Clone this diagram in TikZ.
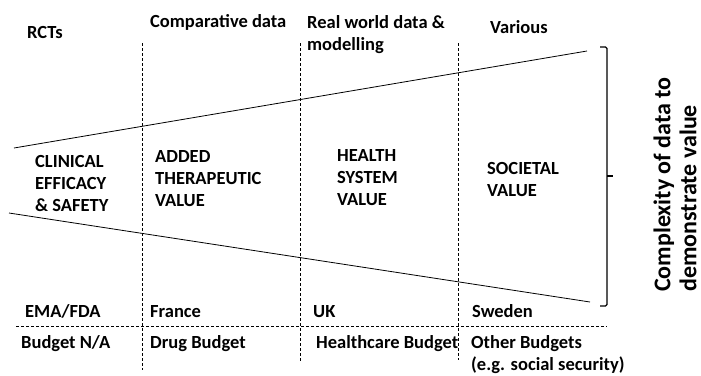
\documentclass[tikz,border=0pt]{standalone}
\usepackage{fontspec}
\setmainfont{Carlito}[BoldFont={Carlito Bold}]
\usetikzlibrary{positioning}

\tikzset{
  txt/.style={font=\fontsize{18.5}{22}\selectfont\bfseries, anchor=base west, inner sep=0pt, align=left},
  big/.style={font=\fontsize{24}{26}\selectfont\bfseries, inner sep=0pt, align=left},
  sep/.style={dash pattern=on 3pt off 2pt, line width=0.7pt},
  edge/.style={line width=0.8pt},
}

\begin{document}
\begin{tikzpicture}[x=1pt, y=-1pt]
    \useasboundingbox (0,0) rectangle (701,375);

    % column separators
    \draw[sep] (142,43) -- (142,370);
    \draw[sep] (300,43) -- (300,362);
    \draw[sep] (458,43) -- (458,360);
    \draw[sep] (16,326) -- (607,326);

    % funnel
    \draw[edge] (14,148) -- (587,51);
    \draw[edge] (9,213) -- (590,302);

    % bracket
    \draw[line width=1.2pt, rounded corners=1.5pt] (600,47) -- (607,47) -- (607,306) -- (600,306);
    \draw[line width=1.2pt] (607,176) -- (613,176);

    % data sources
    \node[txt] (rct) at (27,38) {RCTs};
    \node[txt] (comp) at (150,27) {Comparative data};
    \node[txt] (rwd) at (307,50) {Real world data \&\\modelling};
    \node[txt] (var) at (490,33) {Various};

    % value levels
    \node[txt] (clin) at (35,211) {CLINICAL\\EFFICACY\\\& SAFETY};
    \node[txt] (added) at (155,206) {ADDED\\THERAPEUTIC\\VALUE};
    \node[txt] (hsys) at (337,205) {HEALTH\\SYSTEM\\VALUE};
    \node[txt] (soc) at (487,196) {SOCIETAL\\VALUE};

    % agencies
    \node[txt] (ema) at (25,317) {EMA/FDA};
    \node[txt] (fra) at (150,317) {France};
    \node[txt] (uk) at (313,317) {UK};
    \node[txt] (swe) at (472,317) {Sweden};

    % budgets
    \node[txt] (bna) at (21,348) {Budget N/A};
    \node[txt] (drug) at (150,348) {Drug Budget};
    \node[txt] (hc) at (316,348) {Healthcare Budget};
    \node[txt] (oth) at (471,370) {Other Budgets\\(e.g. social security)};

    \node[big, rotate=90, anchor=west] (cplx) at (675,292) {Complexity of data to\\demonstrate value};
\end{tikzpicture}
\end{document}
